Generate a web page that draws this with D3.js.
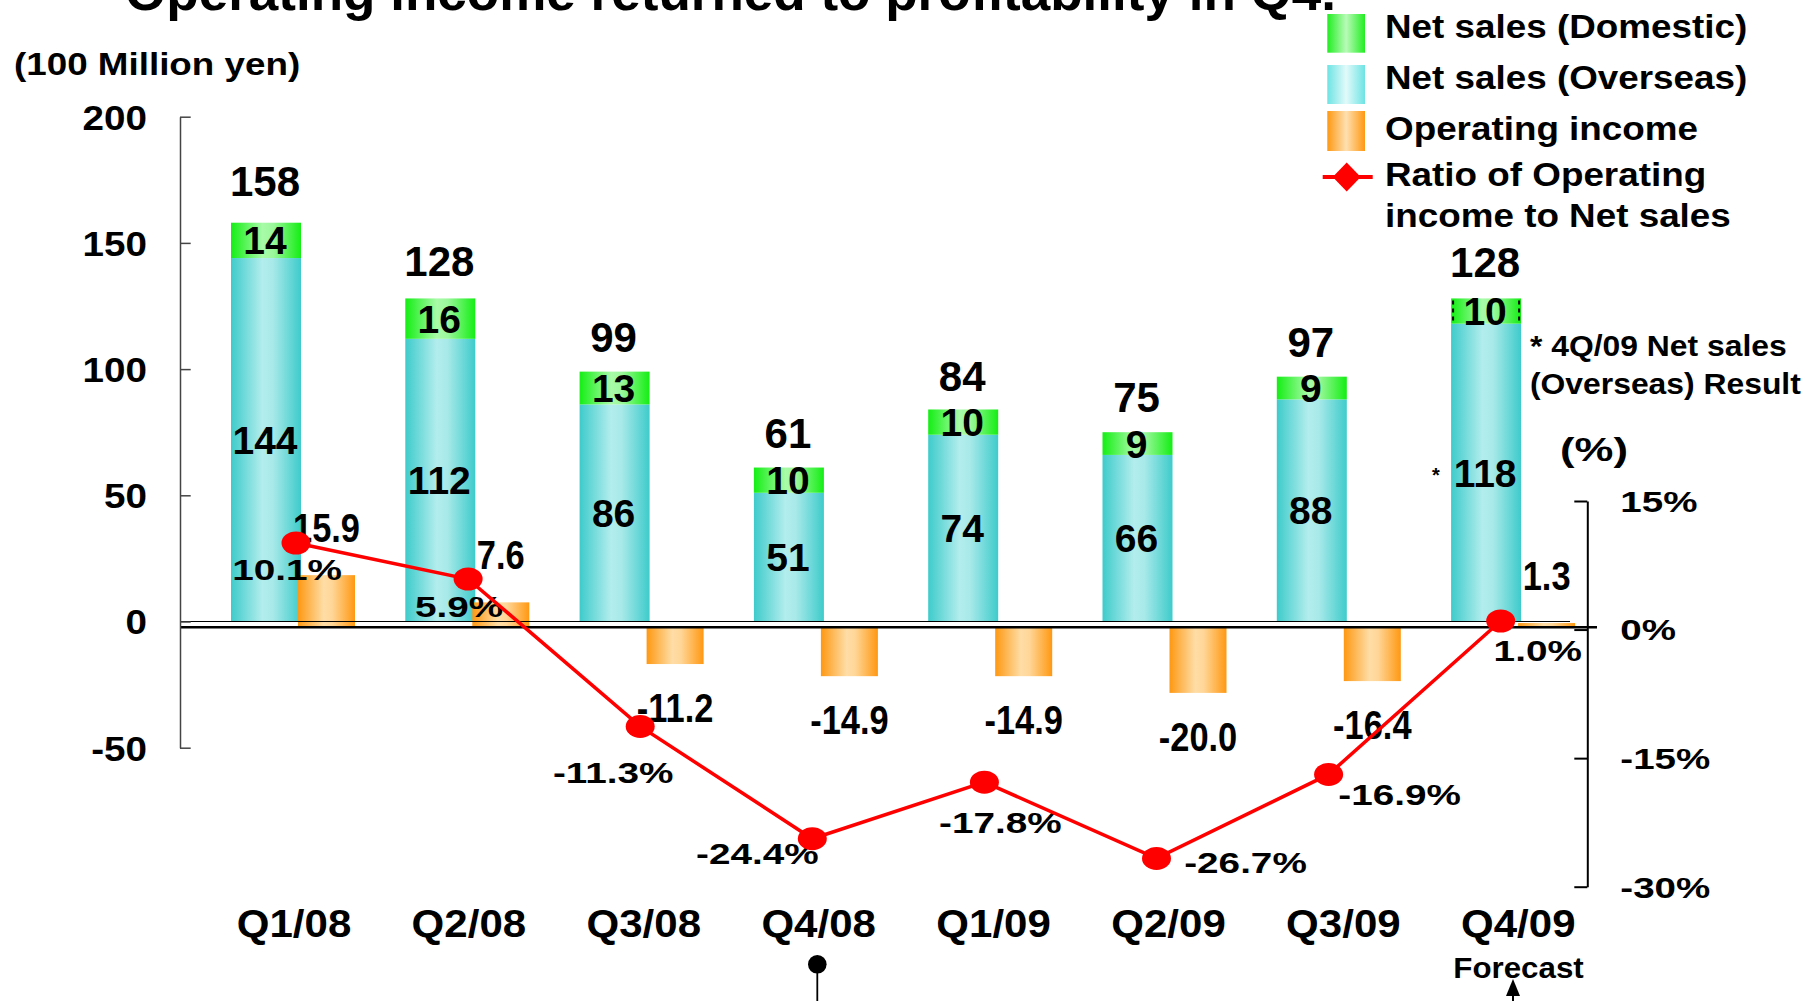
<!DOCTYPE html>
<html><head><meta charset="utf-8">
<script src="https://cdn.jsdelivr.net/npm/d3@7"></script>
<style>html,body{margin:0;padding:0;background:#fff;overflow:hidden}
text{font-family:"Liberation Sans",Arial,Helvetica,sans-serif;font-weight:bold;fill:#000}</style>
</head><body><svg id="c" width="1805" height="1001"></svg>
<script>
// ---------- data ----------
const categories = ["Q1/08","Q2/08","Q3/08","Q4/08","Q1/09","Q2/09","Q3/09","Q4/09"];
const salesOverseas = [144,112,86,51,74,66,88,118];
const salesDomestic = [14,16,13,10,10,9,9,10];
const salesTotal = [158,128,99,61,84,75,97,128];
const operatingIncome = [15.9,7.6,-11.2,-14.9,-14.9,-20.0,-16.4,1.3];
const ratioPct = [10.1,5.9,-11.3,-24.4,-17.8,-26.7,-16.9,1.0];
const leftTicks = [-50,0,50,100,150,200];
const rightTicks = [15,0,-15,-30];
const legendLabels = ["Net sales (Domestic)","Net sales (Overseas)","Operating income"];
const legendLineLabel = ["Ratio of Operating","income to Net sales"];
const noteLines = ["* 4Q/09 Net sales","(Overseas) Result"];
// label nudges (layout only)
const ratioLabelNudge = [[-9,37],[-9,38],[-27,57],[-55,25],[16,51],[89,15],[71,31],[37,40]];
const totalLabelLift = [27,22,20,20,18,20,20,21];

// ---------- setup ----------
const svg = d3.select("#c");
const defs = svg.append("defs");
function grad(id, stops){
  const g = defs.append("linearGradient").attr("id",id).attr("x1",0).attr("x2",1).attr("y1",0).attr("y2",0);
  stops.forEach(s=>g.append("stop").attr("offset",s[0]).attr("stop-color",s[1]));
}
grad("gTeal",[[0,"#3ECBCB"],[0.45,"#B3EDED"],[0.6,"#A8E9E9"],[1,"#3ECBCB"]]);
grad("gGreen",[[0,"#14EE14"],[0.45,"#A8FBA8"],[0.6,"#9CF89C"],[1,"#14EE14"]]);
grad("gOrange",[[0,"#FF9812"],[0.45,"#FFDDA6"],[0.6,"#FFD698"],[1,"#FF9812"]]);
grad("lTeal",[[0,"#6EE3E3"],[0.5,"#E2FAFA"],[1,"#6EE3E3"]]);
grad("lGreen",[[0,"#22EE22"],[0.5,"#B8FBB8"],[1,"#22EE22"]]);
grad("lOrange",[[0,"#FF9812"],[0.5,"#FFE0B0"],[1,"#FF9812"]]);

function txt(g,x,y,str,size,sx,anchor){
  return g.append("text").attr("transform",`translate(${x},${y}) scale(${sx},1)`)
    .attr("text-anchor",anchor||"middle").attr("font-size",size).text(str);
}

// ---------- scales ----------
const ySales = d3.scaleLinear().domain([-50,200]).range([747.7,116.7]);
const yOp = d3.scaleLinear().domain([-20,20]).range([692.9,561.7]);
const yRatio = d3.scaleLinear().domain([-30,15]).range([886.7,501]);
const xBand = d3.scaleBand().domain(categories).range([231,231+8*174.3]).padding(0);
const xLine = d3.scalePoint().domain(categories).range([296,1500.7]);
const xLabel = d3.scalePoint().domain(categories).range([294,1518.3]);
const salesW = 70, opOff = 67, opW = 57;

// ---------- stacked sales bars ----------
const rows = categories.map((c,i)=>({cat:c, overseas:salesOverseas[i], domestic:salesDomestic[i]}));
const stack = d3.stack().keys(["overseas","domestic"])(rows);
const fills = {overseas:"url(#gTeal)", domestic:"url(#gGreen)"};
const gBars = svg.append("g");
stack.forEach(layer=>{
  gBars.selectAll(null).data(layer).enter().append("rect")
    .attr("x",d=>xBand(d.data.cat)).attr("width",salesW)
    .attr("y",d=>ySales(d[1])).attr("height",d=>ySales(d[0])-ySales(d[1]))
    .attr("fill",fills[layer.key]);
});

// operating income bars
svg.append("g").selectAll("rect").data(operatingIncome).enter().append("rect")
  .attr("x",(d,i)=>xBand(categories[i])+opOff).attr("width",opW)
  .attr("y",d=>yOp(Math.max(0,d))).attr("height",d=>Math.abs(yOp(d)-yOp(0)))
  .attr("fill","url(#gOrange)");

// zero lines
svg.append("line").attr("x1",180).attr("x2",1570).attr("y1",ySales(0)).attr("y2",ySales(0))
  .attr("stroke","#000").attr("stroke-width",1.2);
svg.append("line").attr("x1",180).attr("x2",1597).attr("y1",yOp(0)).attr("y2",yOp(0))
  .attr("stroke","#000").attr("stroke-width",2.6);

// ---------- left axis ----------
const gL = svg.append("g").attr("transform","translate(180,0)")
  .call(d3.axisLeft(ySales).tickValues(leftTicks).tickSizeInner(-10.7).tickSizeOuter(0).tickPadding(33).tickFormat(d=>String(d)));
gL.select(".domain").attr("stroke","#444").attr("stroke-width",1.5);
gL.selectAll(".tick line").attr("stroke","#444").attr("stroke-width",1.5);
gL.selectAll(".tick text").attr("x",null).attr("dy",null)
  .attr("transform","translate(-33,12.4) scale(1.12,1)")
  .attr("font-size",34.5).attr("font-family",null);

// ---------- right axis ----------
const gR = svg.append("g").attr("transform","translate(1587.3,0)")
  .call(d3.axisRight(yRatio).tickValues(rightTicks).tickSizeInner(-13).tickSizeOuter(0).tickPadding(33).tickFormat(d=>String(d)+"%"));
gR.select(".domain").attr("stroke","#000").attr("stroke-width",2);
gR.selectAll(".tick line").attr("stroke","#000").attr("stroke-width",2);
gR.selectAll(".tick text").attr("x",null).attr("dy",null)
  .attr("transform","translate(33,10.4) scale(1.33,1)")
  .attr("font-size",29).attr("font-family",null);

// ---------- labels ----------
const gT = svg.append("g");
categories.forEach(c=>txt(gT,xLabel(c),936.7,c,39.7,1.06));
salesTotal.forEach((v,i)=>txt(gT,xBand(categories[i])+34,ySales(v)-totalLabelLift[i],v,42,1.0));
stack.forEach(layer=>{
  layer.forEach(d=>{
    const yc=(ySales(d[0])+ySales(d[1]))/2;
    txt(gT,xBand(d.data.cat)+34,yc+0.358*39,d[1]-d[0],39,1.0);
  });
});
{
  const d = stack[1][7], x0 = xBand(d.data.cat);
  [x0+2, x0+salesW-2].forEach(x=>svg.append("line").attr("x1",x).attr("x2",x)
    .attr("y1",ySales(d[1])+2).attr("y2",ySales(d[0])-2)
    .attr("stroke","#000").attr("stroke-width",2).attr("stroke-dasharray","4,4"));
}
txt(gT,1436,482,"*",20,1.0);
operatingIncome.forEach((v,i)=>{
  const x = xBand(categories[i])+opOff+opW/2;
  const y = v>=0 ? yOp(v)-33 : yOp(v)+58;
  txt(gT,x,y,v.toFixed(1),41,0.84);
});
ratioPct.forEach((v,i)=>{
  const n = ratioLabelNudge[i];
  txt(gT,xLine(categories[i])+n[0],yRatio(v)+n[1],v.toFixed(1)+"%",30,1.29);
});

// ---------- ratio line ----------
svg.append("path").datum(ratioPct)
  .attr("d",d3.line().x((d,i)=>xLine(categories[i])).y(d=>yRatio(d)))
  .attr("fill","none").attr("stroke","#FF0000").attr("stroke-width",3.5);
svg.append("g").selectAll("ellipse").data(ratioPct).enter().append("ellipse")
  .attr("cx",(d,i)=>xLine(categories[i])).attr("cy",d=>yRatio(d))
  .attr("rx",14.5).attr("ry",11.5).attr("fill","#FF0000");

// ---------- title, units ----------
txt(svg,125,9.5,"Operating income returned to profitability in Q4.",52,1.02,"start");
txt(svg,14,74.5,"(100 Million yen)",32,1.15,"start");
txt(svg,1594,461,"(%)",33.6,1.3);
txt(svg,1530,356,noteLines[0],29.3,1.087,"start");
txt(svg,1530,393.5,noteLines[1],29.3,1.087,"start");

// ---------- legend ----------
const lg = svg.append("g");
const swY = [[14,52.7],[65,104],[111,151]];
const swF = ["url(#lGreen)","url(#lTeal)","url(#lOrange)"];
const lbY = [38.3,89.3,140];
legendLabels.forEach((l,i)=>{
  lg.append("rect").attr("x",1327.3).attr("y",swY[i][0]).attr("width",37.7).attr("height",swY[i][1]-swY[i][0]).attr("fill",swF[i]);
  txt(lg,1385,lbY[i],l,32.6,1.13,"start");
});
lg.append("line").attr("x1",1322.7).attr("x2",1372.7).attr("y1",177).attr("y2",177)
  .attr("stroke","#FF0000").attr("stroke-width",4);
lg.append("path").attr("d","M1346.7,162.5L1360.7,177L1346.7,191.5L1332.7,177Z").attr("fill","#FF0000");
txt(lg,1385,186,legendLineLabel[0],32.6,1.13,"start");
txt(lg,1385,227,legendLineLabel[1],32.6,1.13,"start");

// ---------- bottom annotations ----------
svg.append("line").attr("x1",817.3).attr("x2",817.3).attr("y1",964).attr("y2",1001).attr("stroke","#000").attr("stroke-width",1.8);
svg.append("circle").attr("cx",817.3).attr("cy",964.3).attr("r",9.3).attr("fill","#000");
txt(svg,1518.5,978.3,"Forecast",29.8,1.05);
svg.append("path").attr("d","M1513,979L1520,996L1506,996Z").attr("fill","#000");
svg.append("line").attr("x1",1513).attr("x2",1513).attr("y1",994).attr("y2",1001).attr("stroke","#000").attr("stroke-width",2);
</script></body></html>
